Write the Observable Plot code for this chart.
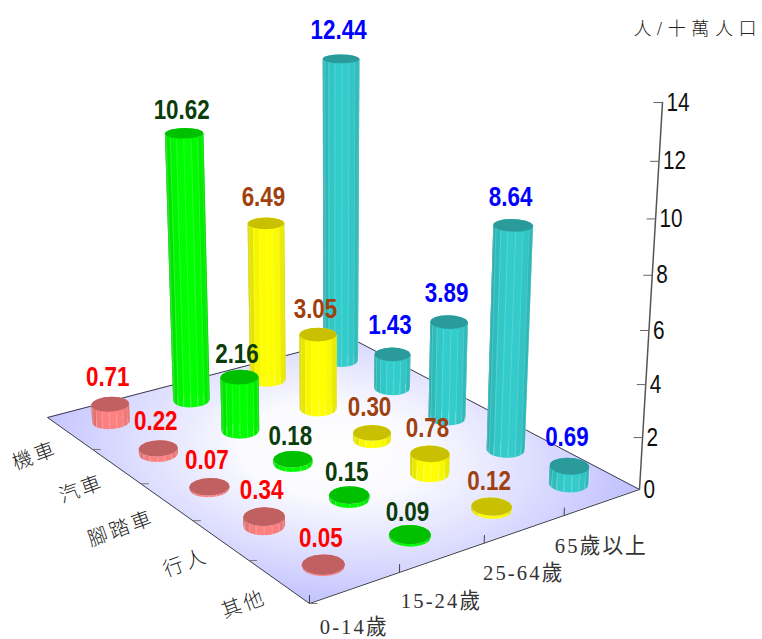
<!DOCTYPE html>
<html>
<head>
<meta charset="utf-8">
<script src="https://cdn.jsdelivr.net/npm/d3@7"></script>
<script src="https://cdn.jsdelivr.net/npm/@observablehq/plot@0.6"></script>
<style>
  html, body { margin: 0; padding: 0; background: #fff; }
  svg { display: block; }
  .row-label text { letter-spacing: 3px; }
  .age-label text { letter-spacing: 2.2px; }
  .unit-label text { letter-spacing: 5.6px; }
</style>
</head>
<body>
<div id="chart"></div>
<script>
// Categories
const ages = ["0-14歲", "15-24歲", "25-64歲", "65歲以上"];
const modes = ["機車", "汽車", "腳踏車", "行人", "其他"];
const zTicks = [0, 2, 4, 6, 8, 10, 12, 14];

// Deaths per 100,000 people, one list per age group, in the order of `modes`
const age0to14 = [0.71, 0.22, 0.07, 0.34, 0.05];
const age15to24 = [10.62, 2.16, 0.18, 0.15, 0.09];
const age25to64 = [6.49, 3.05, 0.30, 0.78, 0.12];
const age65plus = [12.44, 1.43, 3.89, 8.64, 0.69];
const series = [age0to14, age15to24, age25to64, age65plus];

// Per-series colours: column side, cap, value label
const sideColors = ["#ff8080", "#00ff00", "#ffff00", "#33cccc"];
const capColors = ["#c06060", "#00c000", "#c8c000", "#2a9a9a"];
const labelColors = ["#ff0000", "#0a3d0a", "#a0400f", "#0000ff"];
const labelLift = [27, 23, 26, 29];
const ageLabelDrop = [39, 44, 44, 44];

// Perspective camera: floor corners on the page (front, right, back, left)
// plus the vertical axis terms, giving a full 3D-to-page projection.
const W = 762, H = 639;
const [p0, p1, p2, p3] = [[309, 603], [639, 489], [351, 338], [47, 417]];
const camera = (() => {
  const sx = p0[0] - p1[0] + p2[0] - p3[0], sy = p0[1] - p1[1] + p2[1] - p3[1];
  const dx1 = p1[0] - p2[0], dx2 = p3[0] - p2[0], dy1 = p1[1] - p2[1], dy2 = p3[1] - p2[1];
  const det = dx1 * dy2 - dx2 * dy1;
  const g = (sx * dy2 - dx2 * sy) / det, h = (dx1 * sy - sx * dy1) / det;
  const w = 1 + g;
  return {
    a: p1[0] - p0[0] + g * p1[0], b: p3[0] - p0[0] + h * p3[0], c: p0[0],
    d: p1[1] - p0[1] + g * p1[1], e: p3[1] - p0[1] + h * p3[1], f: p0[1],
    g, h, zx: -1.667 * w, zy: -28.15 * w, zw: -0.005 * w
  };
})();
function project(u, v, z = 0) {
  const m = camera, k = m.g * u + m.h * v + m.zw * z + 1;
  return [(m.a * u + m.b * v + m.zx * z + m.c) / k, (m.d * u + m.e * v + m.zy * z + m.f) / k];
}
const uOf = c => (c + 0.5) / ages.length;
const vOf = r => (modes.length - r - 0.5) / modes.length;

// Column footprint, a circle on the floor expressed in floor units
const RU = 0.05, RV = 0.04, FACETS = 16;

const bars = series.flatMap((vals, c) => vals.map((value, r) => ({
  value, c, r, u: uOf(c), v: vOf(r), baseY: project(uOf(c), vOf(r))[1]
}))).sort((a, b) => a.baseY - b.baseY);

function rim(bar, z) {
  return d3.range(FACETS + 1).map(i => {
    const t = (i / FACETS) * 2 * Math.PI + Math.PI / FACETS;
    return project(bar.u + RU * Math.cos(t), bar.v + RV * Math.sin(t), z);
  });
}
function shade(color, k) {
  const c = d3.rgb(color);
  return d3.rgb(c.r * k, c.g * k, c.b * k).formatHex();
}
function sideFacets(bar) {
  const low = rim(bar, 0), high = rim(bar, bar.value);
  const cx = d3.mean(low, p => p[0]), rx = (d3.max(low, p => p[0]) - d3.min(low, p => p[0])) / 2;
  const order = d3.range(FACETS).sort((i, j) => (low[i][1] + low[i + 1][1]) - (low[j][1] + low[j + 1][1]));
  return order.flatMap(i => {
    const off = ((low[i][0] + low[i + 1][0]) / 2 - cx) / rx;
    const fill = shade(sideColors[bar.c], 1 - 0.16 * Math.pow(Math.abs(off), 3));
    return [i, i + 1].map(j => ({
      x1: low[j][0], y1: low[j][1], x2: high[j][0], y2: high[j][1], facet: i, fill
    }));
  });
}
// Pale seams running up the front of a column
function seams(bar) {
  const low = rim(bar, 0), high = rim(bar, bar.value);
  const cy = d3.mean(low, p => p[1]);
  return d3.range(FACETS).filter(i => low[i][1] > cy).map(i => ({
    x1: low[i][0], y1: low[i][1], x2: high[i][0], y2: high[i][1]
  }));
}
function capFan(bar) {
  const [cx, cy] = project(bar.u, bar.v, bar.value);
  return rim(bar, bar.value).map(p => ({ x1: cx, y1: cy, x2: p[0], y2: p[1] }));
}

const columnMarks = bars.flatMap(bar => [
  Plot.area(sideFacets(bar), { x1: "x1", y1: "y1", x2: "x2", y2: "y2", z: "facet", fill: "fill" }),
  Plot.link(seams(bar), { x1: "x1", y1: "y1", x2: "x2", y2: "y2", stroke: "#fff", strokeOpacity: 0.22, strokeWidth: 0.8 }),
  Plot.area(capFan(bar), { x1: "x1", y1: "y1", x2: "x2", y2: "y2", fill: capColors[bar.c] })
]);

// Floor polygon and its soft centre glow
const floorCorners = [[0, 0], [1, 0], [1, 1], [0, 1], [0, 0]].map(([u, v]) => project(u, v));
const floorFill = floorCorners.map(p => ({ x1: p[0], y1: p[1], x2: project(.5, .5)[0], y2: project(.5, .5)[1] }));
function floorGradient() {
  const [cx, cy] = project(.5, .5);
  const defs = d3.create("svg:defs");
  const g = defs.append("radialGradient")
    .attr("id", "floorGlow")
    .attr("gradientUnits", "userSpaceOnUse")
    .attr("cx", 0).attr("cy", 0).attr("r", 1.45)
    .attr("gradientTransform",
      `matrix(${(p1[0] - p0[0]) / 2} ${(p1[1] - p0[1]) / 2} ${(p3[0] - p0[0]) / 2} ${(p3[1] - p0[1]) / 2} ${cx} ${cy})`);
  g.append("stop").attr("offset", 0).attr("stop-color", "#ffffff");
  g.append("stop").attr("offset", 0.3).attr("stop-color", "#fafaff");
  g.append("stop").attr("offset", 0.7).attr("stop-color", "#dadaff");
  g.append("stop").attr("offset", 1).attr("stop-color", "#c0c0ff");
  return defs.node();
}

const serifCjk = "'Liberation Serif','Noto Sans CJK TC',serif";
const sans = "'Liberation Sans',sans-serif";

const plot = Plot.plot({
  width: W,
  height: H,
  margin: 0,
  x: { domain: [0, W], range: [0, W], axis: null },
  y: { domain: [0, H], range: [0, H], axis: null },
  color: { type: "identity" },
  style: { background: "#fff" },
  marks: [
    floorGradient,
    Plot.area(floorFill, { x1: "x1", y1: "y1", x2: "x2", y2: "y2", fill: "url(#floorGlow)" }),
    Plot.line(floorCorners, { x: d => d[0], y: d => d[1], stroke: "#3a3a4a", strokeWidth: 1 }),

    // Floor ticks along both edges
    Plot.link(d3.range(ages.length), {
      x1: i => project(i / ages.length, 0)[0],
      y1: i => project(i / ages.length, 0)[1],
      x2: i => project(i / ages.length, 0, 0.3)[0],
      y2: i => project(i / ages.length, 0, 0.3)[1],
      stroke: "#444"
    }),
    Plot.link(d3.range(modes.length), {
      x1: i => project(0, i / modes.length)[0],
      y1: i => project(0, i / modes.length)[1],
      x2: i => project(0, i / modes.length)[0] + 8,
      y2: i => project(0, i / modes.length)[1],
      stroke: "#777"
    }),

    // Vertical axis
    Plot.line([0, 14], { x: z => project(1, 0, z)[0], y: z => project(1, 0, z)[1], stroke: "#555" }),
    Plot.link(zTicks.slice(1), {
      x1: z => project(1, 0, z)[0] - 9,
      y1: z => project(1, 0, z)[1],
      x2: z => project(1, 0, z)[0],
      y2: z => project(1, 0, z)[1],
      stroke: "#666"
    }),
    Plot.text(zTicks, {
      x: z => project(1, 0, z)[0],
      y: z => project(1, 0, z)[1],
      text: d => String(d),
      dx: 4,
      textAnchor: "start",
      fontFamily: sans,
      fontSize: 25,
      fill: "#111",
      className: "narrow-label"
    }),

    ...columnMarks,

    // Value labels
    Plot.text(bars, {
      x: d => project(d.u, d.v, d.value)[0] - 3,
      y: d => project(d.u, d.v, d.value)[1] - labelLift[d.c],
      text: d => d.value.toFixed(2),
      fontFamily: sans,
      fontWeight: "bold",
      fontSize: 27,
      fill: d => labelColors[d.c],
      className: "narrow-label"
    }),

    // Category labels
    Plot.text(ages, {
      x: (d, i) => project(uOf(i), 0)[0] - 1,
      y: (d, i) => project(uOf(i), 0)[1] + ageLabelDrop[i],
      text: d => d,
      fontFamily: serifCjk,
      fontSize: 21.5,
      fill: "#333",
      className: "age-label"
    }),
    Plot.text(modes, {
      x: (d, i) => project(0, vOf(i))[0] - 13,
      y: (d, i) => project(0, vOf(i))[1] + 15,
      text: d => d,
      rotate: -20,
      textAnchor: "end",
      fontFamily: serifCjk,
      fontSize: 20,
      fontWeight: 300,
      fill: "#222",
      className: "row-label"
    }),

    // Unit caption
    Plot.text(["人/十萬人口"], {
      frameAnchor: "top-right",
      textAnchor: "start",
      dx: -129,
      dy: 22,
      fontFamily: serifCjk,
      fontSize: 18,
      fontWeight: 300,
      fill: "#222",
      className: "unit-label"
    })
  ]
});

// Squeeze the numerals and age labels horizontally into a narrower face
const squeeze = (selector, k) => plot.querySelectorAll(selector).forEach(t => {
  t.setAttribute("transform", `${t.getAttribute("transform") || ""} scale(${k} 1)`);
});
squeeze(".narrow-label text", 0.83);
squeeze(".age-label text", 0.96);
document.getElementById("chart").appendChild(plot);
</script>
</body>
</html>
